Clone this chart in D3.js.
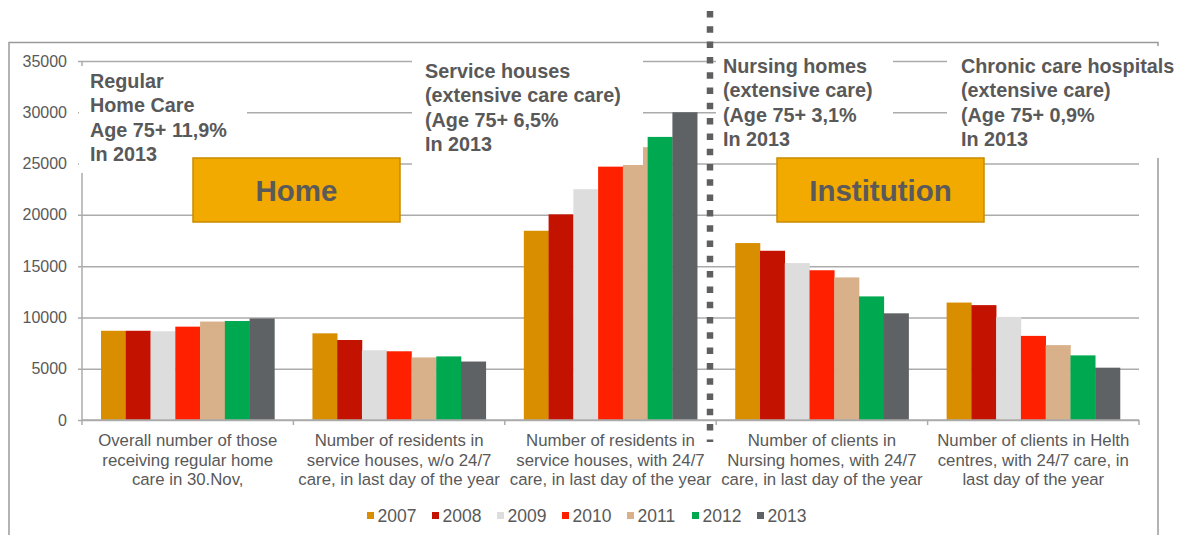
<!DOCTYPE html>
<html>
<head>
<meta charset="utf-8">
<script src="https://cdn.jsdelivr.net/npm/d3@7"></script>
<style>
  body { margin: 0; background: #fff; }
  svg { display: block; font-family: "Liberation Sans", Arial, Helvetica, sans-serif; }
</style>
</head>
<body>
<div id="chart"></div>
<script>
// categories (x axis), one label split in lines
const categories = [
  ["Overall number of those", "receiving regular home", "care in 30.Nov,"],
  ["Number of residents in", "service houses, w/o 24/7", "care, in last day of the year"],
  ["Number of residents in", "service houses, with 24/7", "care, in last day of the year"],
  ["Number of clients in", "Nursing homes, with 24/7", "care, in last day of the year"],
  ["Number of clients in Helth", "centres, with 24/7 care, in", "last day of the year"]
];
const years = ["2007", "2008", "2009", "2010", "2011", "2012", "2013"];

// series values, one array per year
const v2007 = [8700, 8450, 18450, 17250, 11450];
const v2008 = [8700, 7800, 20050, 16500, 11200];
const v2009 = [8650, 6800, 22500, 15300, 10050];
const v2010 = [9100, 6700, 24700, 14600, 8200];
const v2011 = [9600, 6100, 26600, 13900, 7300];
const v2012 = [9650, 6200, 27600, 12050, 6300];
const v2013 = [9900, 5700, 30000, 10400, 5100];
const series = [v2007, v2008, v2009, v2010, v2011, v2012, v2013];

const colors = ["#D98E00", "#C41200", "#DDDDDD", "#FF2000", "#D8B08A", "#00A84F", "#5E6264"];
const yTicks = [0, 5000, 10000, 15000, 20000, 25000, 30000, 35000];

const notes = [
  ["Regular", "Home Care", "Age 75+ 11,9%", "In 2013"],
  ["Service houses", "(extensive care care)", "(Age 75+ 6,5%", "In 2013"],
  ["Nursing homes", "(extensive care)", "(Age 75+ 3,1%", "In 2013"],
  ["Chronic care hospitals", "(extensive care)", "(Age 75+ 0,9%", "In 2013"]
];
const groups = ["Home", "Institution"];

const W = 1190, H = 535;
const textCol = "#595959";
const gridCol = "#ABABAB";

const svg = d3.select("#chart").append("svg")
  .attr("width", W).attr("height", H);

const x0 = d3.scaleBand()
  .domain(d3.range(categories.length))
  .range([82, 1139])
  .paddingInner(0.18)
  .paddingOuter(0.09);
const x1 = d3.scaleBand()
  .domain(d3.range(years.length))
  .range([0, x0.bandwidth()]);
const y = d3.scaleLinear().domain([0, 35000]).range([420, 61]);

// frame
svg.append("path")
  .attr("d", "M9,545V42.5H1158V545")
  .attr("fill", "none").attr("stroke", "#9a9a9a").attr("stroke-width", 1.5);

// y axis + grid
const yAxis = svg.append("g")
  .attr("transform", "translate(82,0)")
  .call(d3.axisLeft(y).tickValues(yTicks).tickFormat(d3.format("d"))
    .tickSize(-(1139 - 82)).tickSizeOuter(0).tickPadding(15));
yAxis.select(".domain").remove();
yAxis.selectAll(".tick line")
  .attr("x1", -4).attr("stroke", gridCol).attr("stroke-width", 1.5);
yAxis.selectAll(".tick text")
  .attr("fill", textCol).style("font-size", "16px").style("font-family", "inherit");

svg.append("line")
  .attr("x1", 82).attr("x2", 82).attr("y1", 61).attr("y2", 420)
  .attr("stroke", gridCol).attr("stroke-width", 1.5);

// bars
const gBars = svg.append("g");
series.forEach((vals, si) => {
  gBars.selectAll(null)
    .data(vals)
    .join("rect")
    .attr("x", (d, ci) => x0(ci) + x1(si))
    .attr("width", x1.bandwidth() + 0.3)
    .attr("y", d => y(d))
    .attr("height", d => y(0) - y(d))
    .attr("fill", colors[si]);
});

// x axis with ticks at category boundaries
const bounds = d3.range(categories.length + 1).map(i => x0.range()[0] + i * x0.step());
svg.append("line")
  .attr("x1", 82).attr("x2", 1139).attr("y1", 420).attr("y2", 420)
  .attr("stroke", gridCol).attr("stroke-width", 1.5);
svg.selectAll(null).data(bounds).join("line")
  .attr("x1", d => d).attr("x2", d => d)
  .attr("y1", 420).attr("y2", 425)
  .attr("stroke", gridCol).attr("stroke-width", 1.5);

const catText = svg.selectAll(null).data(categories).join("text")
  .attr("text-anchor", "middle")
  .attr("fill", textCol)
  .style("font-size", "16.8px");
catText.each(function(lines, ci) {
  d3.select(this).selectAll("tspan").data(lines).join("tspan")
    .attr("x", x0(ci) + x0.bandwidth() / 2)
    .attr("y", (d, li) => 446 + li * 19.7)
    .text(d => d);
});

// white boxes behind notes (they hide the grid and part of a bar)
const noteBoxes = [[79, 66, 168, 107], [412, 52, 231, 113], [716, 50, 177, 106], [947, 46, 243, 112]];
svg.selectAll(null).data(noteBoxes).join("rect")
  .attr("x", d => d[0]).attr("y", d => d[1])
  .attr("width", d => d[2]).attr("height", d => d[3])
  .attr("fill", "#fff");

const notePos = [[90, 88], [425, 78], [723, 73], [961, 73]];
notes.forEach((lines, ni) => {
  svg.append("text")
    .attr("fill", textCol)
    .style("font-size", "19.8px").style("font-weight", "bold")
    .selectAll("tspan").data(lines).join("tspan")
    .attr("x", notePos[ni][0])
    .attr("y", (d, li) => notePos[ni][1] + li * 24.3)
    .text(d => d);
});

// orange group boxes
const groupBoxes = [[193, 158, 207, 64], [777, 158, 207, 64]];
groups.forEach((g, gi) => {
  const b = groupBoxes[gi];
  svg.append("rect")
    .attr("x", b[0]).attr("y", b[1]).attr("width", b[2]).attr("height", b[3])
    .attr("fill", "#F2A900").attr("stroke", "#C98B00").attr("stroke-width", 1.5);
  svg.append("text")
    .attr("x", b[0] + b[2] / 2).attr("y", b[1] + b[3] / 2 + 10.5)
    .attr("text-anchor", "middle")
    .attr("fill", "#5a5a5a")
    .style("font-size", "29.5px").style("font-weight", "bold")
    .text(g);
});

// dotted separator between Home and Institution
svg.append("line")
  .attr("x1", 710).attr("x2", 710).attr("y1", 11).attr("y2", 442)
  .attr("stroke", "#5f5f5f").attr("stroke-width", 6.5)
  .attr("stroke-dasharray", "6.5,8.8");

// legend
const leg = svg.selectAll(null).data(years).join("g")
  .attr("transform", (d, i) => `translate(${367 + i * 65},0)`);
leg.append("rect")
  .attr("x", 0).attr("y", 512).attr("width", 7).attr("height", 7)
  .attr("fill", (d, i) => colors[i]);
leg.append("text")
  .attr("x", 10.5).attr("y", 522)
  .attr("fill", textCol)
  .style("font-size", "17.5px")
  .text(d => d);
</script>
</body>
</html>
